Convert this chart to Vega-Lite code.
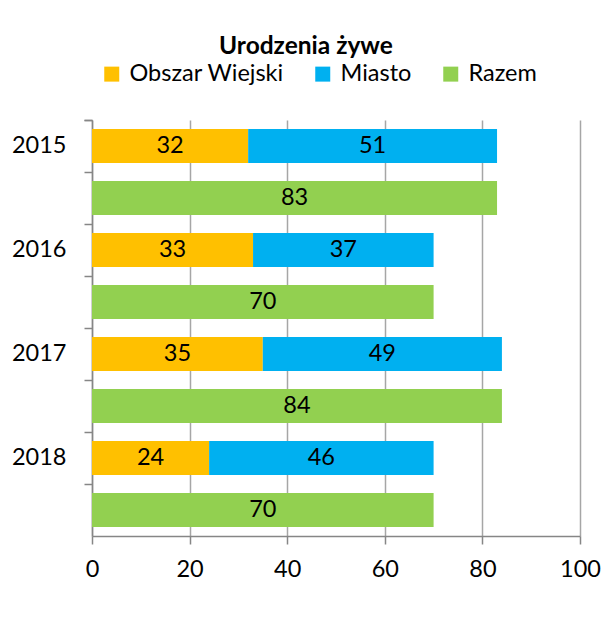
{
  "$schema": "https://vega.github.io/schema/vega-lite/v6.json",
  "width": 488,
  "height": 416,
  "autosize": {"type": "none"},
  "padding": {"left": 92, "top": 120, "right": 26, "bottom": 83},
  "background": "white",
  "config": {"view": {"stroke": null}},
  "title": {"text": "Urodzenia żywe", "font": "Lato", "fontSize": 24.5, "fontWeight": "bold", "color": "black", "anchor": "middle", "frame": "bounds", "offset": 3},
  "data": {"values": [
    {"row": "2015a", "series": "Obszar Wiejski", "k": 1, "value": 32},
    {"row": "2015a", "series": "Miasto", "k": 2, "value": 51},
    {"row": "2015b", "series": "Razem", "k": 3, "value": 83},
    {"row": "2016a", "series": "Obszar Wiejski", "k": 1, "value": 33},
    {"row": "2016a", "series": "Miasto", "k": 2, "value": 37},
    {"row": "2016b", "series": "Razem", "k": 3, "value": 70},
    {"row": "2017a", "series": "Obszar Wiejski", "k": 1, "value": 35},
    {"row": "2017a", "series": "Miasto", "k": 2, "value": 49},
    {"row": "2017b", "series": "Razem", "k": 3, "value": 84},
    {"row": "2018a", "series": "Obszar Wiejski", "k": 1, "value": 24},
    {"row": "2018a", "series": "Miasto", "k": 2, "value": 46},
    {"row": "2018b", "series": "Razem", "k": 3, "value": 70}
  ]},
  "layer": [
    {
      "mark": {"type": "bar", "height": {"band": 0.654}},
      "encoding": {
        "y": {
          "field": "row", "type": "nominal",
          "scale": {"domain": ["2015a", "2015b", "2016a", "2016b", "2017a", "2017b", "2018a", "2018b"], "paddingInner": 0, "paddingOuter": 0},
          "axis": {
            "title": null, "grid": false,
            "domainColor": "#868686", "domainWidth": 1.5,
            "tickColor": "#868686", "tickWidth": 1.5, "tickSize": 8,
            "bandPosition": 0, "tickExtra": true,
            "labelExpr": "indexof(datum.value + '', 'a') > 0 ? substring(datum.value + '', 0, 4) : ''",
            "labelFont": "Lato", "labelFontSize": 23.5, "labelColor": "black", "labelPadding": 18
          }
        },
        "x": {
          "field": "value", "type": "quantitative", "stack": "zero",
          "scale": {"domain": [0, 100], "nice": false},
          "axis": {
            "title": null, "values": [0, 20, 40, 60, 80, 100],
            "grid": true, "gridColor": "#a6a6a6", "gridWidth": 1.5,
            "domainColor": "#868686", "domainWidth": 1.5,
            "tickColor": "#868686", "tickWidth": 1.5, "tickSize": 8,
            "labelFont": "Lato", "labelFontSize": 23.5, "labelColor": "black", "labelPadding": 13, "labelFlush": false
          }
        },
        "order": {"field": "k", "type": "quantitative", "sort": "ascending"},
        "color": {
          "field": "series", "type": "nominal",
          "scale": {"domain": ["Obszar Wiejski", "Miasto", "Razem"], "range": ["#FFC000", "#00B0F0", "#92D050"]},
          "legend": {
            "title": null, "orient": "none", "direction": "horizontal",
            "legendX": 8, "legendY": -58,
            "symbolType": "square", "symbolSize": 225, "symbolStrokeWidth": 0,
            "labelFont": "Lato", "labelFontSize": 23.5, "labelColor": "black", "labelOffset": 6,
            "columnPadding": 27
          }
        }
      }
    },
    {
      "transform": [
        {"stack": "value", "groupby": ["row"], "sort": [{"field": "k", "order": "ascending"}], "as": ["x0", "x1"]},
        {"calculate": "(datum.x0 + datum.x1) / 2", "as": "mid"}
      ],
      "mark": {"type": "text", "font": "Lato", "fontSize": 23.5, "color": "black", "baseline": "middle", "align": "center"},
      "encoding": {
        "y": {"field": "row", "type": "nominal"},
        "x": {"field": "mid", "type": "quantitative"},
        "text": {"field": "value", "type": "quantitative"}
      }
    }
  ]
}
